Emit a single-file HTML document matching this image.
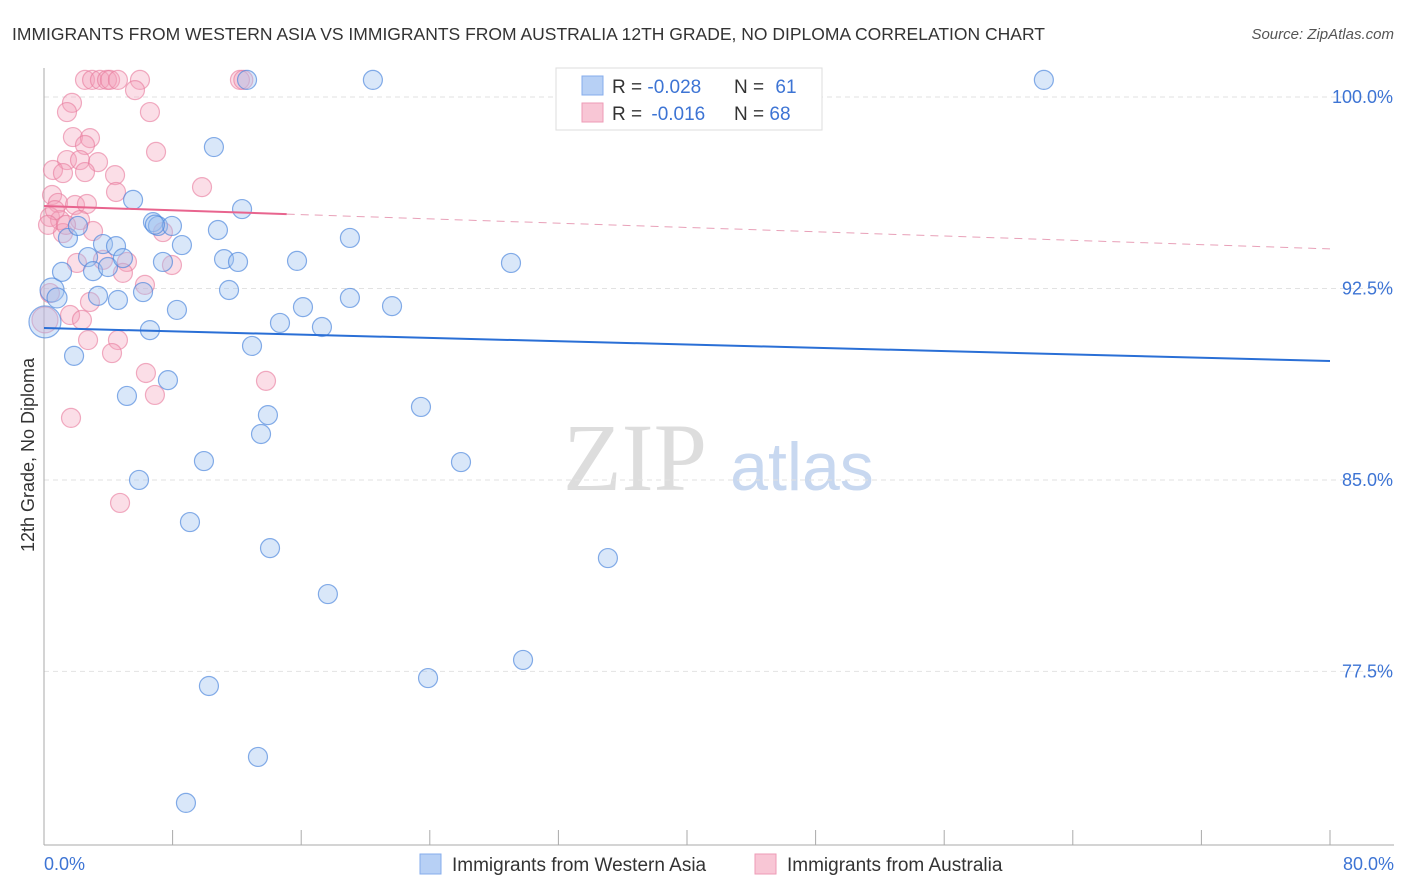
<!DOCTYPE html>
<html><head><meta charset="utf-8"><style>
body{margin:0;background:#fff;font-family:"Liberation Sans",sans-serif;}
svg{display:block}
</style></head><body>
<svg id="chart" width="1406" height="892" xmlns="http://www.w3.org/2000/svg">
<text x="12" y="40" font-size="17.5" fill="#333">IMMIGRANTS FROM WESTERN ASIA VS IMMIGRANTS FROM AUSTRALIA 12TH GRADE, NO DIPLOMA CORRELATION CHART</text>
<text x="1394" y="39" font-size="15" fill="#555" font-style="italic" text-anchor="end">Source: ZipAtlas.com</text>
<g>
<text x="635" y="490" font-size="96" fill="#ddd" font-family="Liberation Serif,serif" text-anchor="middle">ZIP</text>
<text x="802" y="490" font-size="68" fill="#c8d8f0" text-anchor="middle">atlas</text>
</g>
<g id="grid"></g>
<g id="axes"></g>
<g id="marks"></g>
<text transform="translate(34,455) rotate(-90)" font-size="18" fill="#333" text-anchor="middle">12th Grade, No Diploma</text>
<text x="44" y="870" font-size="18" fill="#3d74d4">0.0%</text>
<text x="1394" y="870" font-size="18" fill="#3d74d4" text-anchor="end">80.0%</text>
<g>
<rect x="556" y="68" width="266" height="62" fill="#fff" stroke="#ddd"/>
<rect x="582" y="76" width="21" height="19" fill="#b7d0f5" stroke="#86acec"/>
<rect x="582" y="103" width="21" height="19" fill="#f8c6d5" stroke="#ee9bb6"/>
<text x="612" y="93" font-size="19" fill="#333">R = <tspan fill="#3d74d4">-0.028</tspan></text>
<text x="734" y="93" font-size="19" fill="#333">N = <tspan fill="#3d74d4" dx="6">61</tspan></text>
<text x="612" y="120" font-size="19" fill="#333">R = <tspan fill="#3d74d4" dx="4">-0.016</tspan></text>
<text x="734" y="120" font-size="19" fill="#333">N = <tspan fill="#3d74d4">68</tspan></text>
</g>
<g>
<rect x="420" y="854" width="21" height="20" fill="#b7d0f5" stroke="#86acec"/>
<text x="452" y="871" font-size="19" fill="#333">Immigrants from Western Asia</text>
<rect x="755" y="854" width="21" height="20" fill="#f8c6d5" stroke="#ee9bb6"/>
<text x="787" y="871" font-size="19" fill="#333">Immigrants from Australia</text>
</g>
</svg>
<script>
const yTicks=[100,92.5,85,77.5];
const yTickLabels=["100.0%","92.5%","85.0%","77.5%"];
const xTicks=[0,8,16,24,32,40,48,56,64,72,80];
const blueX=[0.06,0.50,0.81,1.12,1.49,1.87,2.11,2.74,3.05,3.36,3.67,3.98,4.48,4.60,4.91,5.16,5.54,5.91,6.16,6.59,6.78,7.09,7.40,7.71,7.96,8.27,8.58,9.08,9.95,10.26,10.57,10.82,11.20,11.51,12.07,12.32,12.63,12.94,13.31,13.50,13.93,14.06,14.68,15.74,16.11,17.29,17.66,19.03,19.03,20.46,21.65,23.45,23.89,25.94,29.05,29.80,35.08,8.83,62.2,44.04,6.9];
const blueY=[91.19,92.44,92.13,93.15,94.48,89.86,94.95,93.73,93.18,92.21,94.24,93.34,94.16,92.05,93.69,88.29,95.97,85.00,92.36,90.87,95.10,94.95,93.54,88.91,94.95,91.66,94.20,83.35,85.74,76.93,98.04,94.79,93.65,92.44,93.54,95.61,100.67,90.25,74.15,86.80,87.54,82.33,91.15,93.58,91.77,90.99,80.53,94.48,92.13,100.67,91.81,87.86,77.24,85.70,93.50,77.95,81.94,72.35,100.67,100.67,95.0];
const blueSize=[16,12,10,9.5,9.5,9.5,9.5,9.5,9.5,9.5,9.5,9.5,9.5,9.5,9.5,9.5,9.5,9.5,9.5,9.5,9.5,9.5,9.5,9.5,9.5,9.5,9.5,9.5,9.5,9.5,9.5,9.5,9.5,9.5,9.5,9.5,9.5,9.5,9.5,9.5,9.5,9.5,9.5,9.5,9.5,9.5,9.5,9.5,9.5,9.5,9.5,9.5,9.5,9.5,9.5,9.5,9.5,9.5,9.5,9.5,9.5];
const pinkX=[2.55,2.99,3.48,3.92,4.11,4.60,5.97,12.19,5.66,1.74,1.43,1.80,2.86,2.55,6.59,6.97,1.43,2.24,3.36,0.56,1.18,2.55,4.42,4.48,9.83,0.50,0.87,1.93,2.67,0.37,1.00,2.24,1.18,3.05,7.40,2.05,3.67,5.16,4.91,7.96,6.28,0.37,2.86,1.62,2.36,2.74,4.60,4.23,6.34,6.90,13.81,1.68,4.73,0.68,0.25,1.37,0.06,12.4];
const pinkY=[100.67,100.67,100.67,100.67,100.67,100.67,100.67,100.67,100.27,99.77,99.41,98.43,98.39,98.12,99.41,97.85,97.53,97.53,97.45,97.14,97.02,97.06,96.94,96.28,96.47,96.16,95.85,95.77,95.81,95.30,95.18,95.18,94.67,94.75,94.71,93.50,93.62,93.54,93.11,93.42,92.64,92.32,91.97,91.46,91.27,90.48,90.48,89.97,89.19,88.33,88.88,87.43,84.10,95.57,94.99,94.99,91.27,100.67];
const blueTrend=[90.95,89.66];
const pinkTrend=[95.73,94.05];
const pinkSolidEnd=15.1;

const NS="http://www.w3.org/2000/svg";
const X0=44,X1=1330,Y100=97,PX_PER=25.53;
function xs(v){return X0+(v/80)*(X1-X0);}
function ys(v){return Y100+(100-v)*PX_PER;}
function mk(tag,attrs,parent){const e=document.createElementNS(NS,tag);for(const k in attrs)e.setAttribute(k,attrs[k]);parent.appendChild(e);return e;}
const grid=document.getElementById('grid'),axes=document.getElementById('axes'),marks=document.getElementById('marks');
yTicks.forEach((t,i)=>{
  const l=mk('line',{x1:X0,x2:1394,y1:ys(t),y2:ys(t),stroke:'#e2e2e2','stroke-dasharray':'5,4'},grid);
  
  
  const tx=mk('text',{x:1393,y:ys(t)+6,'font-size':18,fill:'#3d74d4','text-anchor':'end'},grid);
  tx.textContent=yTickLabels[i];
  
  
});
const ya=mk('line',{x1:X0,x2:X0,y1:68,y2:845,stroke:'#aaa'},axes);


const xa=mk('line',{x1:X0,x2:1394,y1:845,y2:845,stroke:'#aaa'},axes);


xTicks.forEach(t=>{
  const l=mk('line',{x1:xs(t),x2:xs(t),y1:830,y2:845,stroke:'#aaa'},axes);
  
  
});
pinkX.forEach((x,i)=>{
  const c=mk('circle',{cx:xs(x),cy:ys(pinkY[i]),r:(i==56?13:9.5),fill:'rgba(244,160,185,0.35)',stroke:'rgba(232,120,155,0.6)','stroke-width':1.2},marks);
  
  
});
blueX.forEach((x,i)=>{
  const c=mk('circle',{cx:xs(x),cy:ys(blueY[i]),r:blueSize[i],fill:'rgba(160,195,240,0.4)',stroke:'rgba(70,130,220,0.65)','stroke-width':1.2},marks);
  
  
});
const bt=mk('line',{x1:xs(0),y1:ys(blueTrend[0]),x2:xs(80),y2:ys(blueTrend[1]),stroke:'#2a6fd6','stroke-width':2},marks);


const pAt=v=>pinkTrend[0]+(pinkTrend[1]-pinkTrend[0])*v/80;
const pt=mk('line',{x1:xs(0),y1:ys(pinkTrend[0]),x2:xs(pinkSolidEnd),y2:ys(pAt(pinkSolidEnd)),stroke:'#e8648e','stroke-width':2},marks);


const pd=mk('line',{x1:xs(pinkSolidEnd),y1:ys(pAt(pinkSolidEnd)),x2:xs(80),y2:ys(pinkTrend[1]),stroke:'#e8a0b8','stroke-width':1,'stroke-dasharray':'8,6'},marks);


</script>
</body></html>
